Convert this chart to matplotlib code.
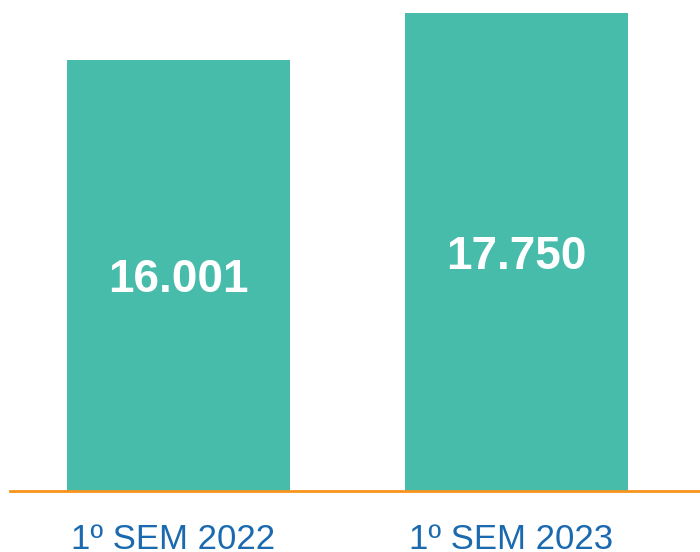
import matplotlib.pyplot as plt
from matplotlib.transforms import ScaledTranslation

categories = ["1º SEM 2022", "1º SEM 2023"]
values = [16001, 17750]
value_labels = ["16.001", "17.750"]

BAR_COLOR = "#47BCAA"
LINE_COLOR = "#F7941D"
TEXT_BLUE = "#1B6AB0"

plt.rcParams["font.family"] = ["Liberation Sans", "DejaVu Sans"]

fig = plt.figure(figsize=(7.0, 5.52), dpi=100)
# axes spans from x=10px to right edge, baseline at 491px from top
ax = fig.add_axes([10 / 700, 61 / 552, 690 / 700, 491 / 552])

x = list(range(len(categories)))
ax.bar(x, values, width=0.66, color=BAR_COLOR, zorder=2)

for xi, v, lab in zip(x, values, value_labels):
    ax.annotate(lab, (xi, v / 2), xytext=(0, -3.6), textcoords="offset points",
                ha="center", va="center", color="white",
                fontsize=33, fontweight="bold")

ax.set_xlim(-168.5 / 338, 1 + 183.5 / 338)
ax.set_ylim(0, 491 / (431 / 16001))

for s in ["top", "right", "left"]:
    ax.spines[s].set_visible(False)
ax.spines["bottom"].set_color(LINE_COLOR)
ax.spines["bottom"].set_linewidth(2.0)
ax.spines["bottom"].set_zorder(3)

ax.set_yticks([])
ax.set_xticks(x)
ax.set_xticklabels(categories, fontsize=25, color=TEXT_BLUE)
ax.tick_params(axis="x", length=0, pad=23)
# labels sit a little left of the bar centres in the original
for lbl in ax.get_xticklabels():
    lbl.set_transform(lbl.get_transform() + ScaledTranslation(-0.05, 0, fig.dpi_scale_trans))

fig.savefig("out.png", dpi=100)
